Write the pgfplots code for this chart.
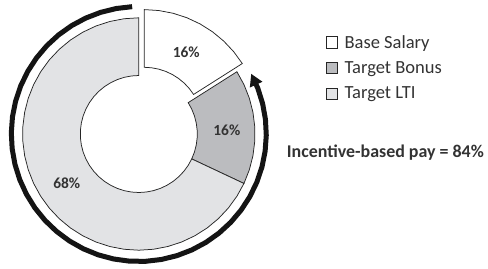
\documentclass[border=0pt]{standalone}
\usepackage{fontspec}
\setmainfont{Carlito}
\usepackage{pgfplots}
\pgfplotsset{compat=1.18}
\usepgfplotslibrary{polar}
\usetikzlibrary{arrows.meta}
\definecolor{bonus}{HTML}{BBBCBF}
\definecolor{lti}{HTML}{E2E3E5}
\definecolor{edge}{HTML}{262626}
\definecolor{txt}{HTML}{333333}
\begin{document}
\begin{tikzpicture}
\path[use as bounding box] (0,0) rectangle (488bp,269bp);
\begin{polaraxis}[
  at={(138.8bp,135bp)}, anchor=center,
  scale only axis, width=270bp, height=270bp,
  xmin=0, xmax=360, ymin=0, ymax=135,
  hide axis, clip=false, no markers,
  legend style={at={(axis description cs:1.1933,0.8730)}, anchor=north west,
    draw=none, fill=none, inner sep=0pt, outer sep=0pt,
    font=\fontsize{18.6}{20}\selectfont, text=txt,
    row sep=7bp, column sep=4.5bp},
  legend cell align=left,
  legend image code/.code={\path (0bp,-9.7bp); \draw[#1, line width=0.8bp, draw=edge] (0bp,-5.65bp) rectangle (11.3bp,5.65bp);},
]
% Base Salary 16% (exploded)
\addplot[fill=white, draw=edge, line width=0.75bp, xshift=5.4bp, yshift=8.2bp, forget plot] coordinates {
(90,116.2) (82.8,116.2) (75.6,116.2) (68.4,116.2) (61.2,116.2) (54,116.2) (46.8,116.2) (39.6,116.2) (32.4,116.2)
(32.4,58.5) (39.6,58.5) (46.8,58.5) (54,58.5) (61.2,58.5) (68.4,58.5) (75.6,58.5) (82.8,58.5) (90,58.5)
} -- cycle;
% Target Bonus 16%
\addplot[fill=bonus, draw=edge, line width=0.75bp, forget plot] coordinates {
(32.4,116.2) (25.2,116.2) (18,116.2) (10.8,116.2) (3.6,116.2) (-3.6,116.2) (-10.8,116.2) (-18,116.2) (-25.2,116.2)
(-25.2,58.5) (-18,58.5) (-10.8,58.5) (-3.6,58.5) (3.6,58.5) (10.8,58.5) (18,58.5) (25.2,58.5) (32.4,58.5)
} -- cycle;
% Target LTI 68%
\addplot[fill=lti, draw=edge, line width=0.75bp, forget plot] coordinates {
(334.8,116.2) (327.6,116.2) (320.4,116.2) (313.2,116.2) (306,116.2) (298.8,116.2) (291.6,116.2) (284.4,116.2)
(277.2,116.2) (270,116.2) (262.8,116.2) (255.6,116.2) (248.4,116.2) (241.2,116.2) (234,116.2) (226.8,116.2)
(219.6,116.2) (212.4,116.2) (205.2,116.2) (198,116.2) (190.8,116.2) (183.6,116.2) (176.4,116.2) (169.2,116.2)
(162,116.2) (154.8,116.2) (147.6,116.2) (140.4,116.2) (133.2,116.2) (126,116.2) (118.8,116.2) (111.6,116.2)
(104.4,116.2) (97.2,116.2) (90,116.2)
(90,58.5) (97.2,58.5) (104.4,58.5) (111.6,58.5) (118.8,58.5) (126,58.5) (133.2,58.5) (140.4,58.5)
(147.6,58.5) (154.8,58.5) (162,58.5) (169.2,58.5) (176.4,58.5) (183.6,58.5) (190.8,58.5) (198,58.5)
(205.2,58.5) (212.4,58.5) (219.6,58.5) (226.8,58.5) (234,58.5) (241.2,58.5) (248.4,58.5) (255.6,58.5)
(262.8,58.5) (270,58.5) (277.2,58.5) (284.4,58.5) (291.6,58.5) (298.8,58.5) (306,58.5) (313.2,58.5)
(320.4,58.5) (327.6,58.5) (334.8,58.5)
} -- cycle;
% Incentive-based pay arrow (84%)
\addplot[draw=black!92, line width=5bp, line join=round, -{Triangle[length=12bp,width=13bp]}, forget plot] coordinates {
(93.0,127.5) (100.2,127.5) (107.4,127.5) (114.6,127.5) (121.8,127.5) (129.0,127.5) (136.2,127.5) (143.4,127.5)
(150.6,127.5) (157.8,127.5) (165.0,127.5) (172.2,127.5) (179.4,127.5) (186.6,127.5) (193.8,127.5) (201.0,127.5)
(208.2,127.5) (215.4,127.5) (222.6,127.5) (229.8,127.5) (237.0,127.5) (244.2,127.5) (251.4,127.5) (258.6,127.5)
(265.8,127.5) (273.0,127.5) (280.2,127.5) (287.4,127.5) (294.6,127.5) (301.8,127.5) (309.0,127.5) (316.2,127.5)
(323.4,127.5) (330.6,127.5) (337.8,127.5) (345.0,127.5) (352.2,127.5) (359.4,127.5) (366.6,127.5) (373.8,127.5)
(381.0,127.5) (388.2,127.5)
};
\addlegendimage{fill=white}
\addlegendentry{Base Salary}
\addlegendimage{fill=bonus}
\addlegendentry{Target Bonus}
\addlegendimage{fill=lti}
\addlegendentry{Target LTI}
\node[font=\bfseries\fontsize{15.5}{17}\selectfont, text=txt] at (axis cs:59.9,94.6) {16\%};
\node[font=\bfseries\fontsize{15.5}{17}\selectfont, text=txt] at (axis cs:2.6,88.1) {16\%};
\node[font=\bfseries\fontsize{15.5}{17}\selectfont, text=txt] at (axis cs:214.2,87.1) {68\%};
\end{polaraxis}
\node[anchor=base west, inner sep=0pt, font=\bfseries\fontsize{18}{20}\selectfont, text=txt] at (286.7bp,111.7bp) {Incentive-based pay = 84\%};
\end{tikzpicture}
\end{document}
